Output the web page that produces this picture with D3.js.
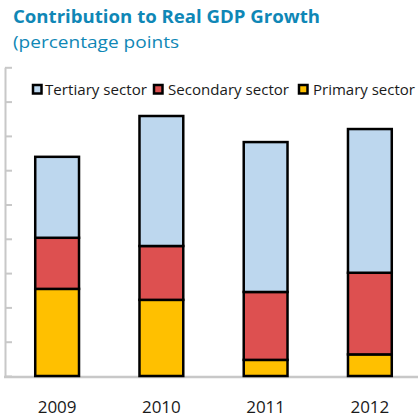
<!DOCTYPE html>
<html><head><meta charset="utf-8">
<script src="https://cdn.jsdelivr.net/npm/d3@7"></script>
<style>body{margin:0;background:#fff}svg{display:block}</style>
</head><body>
<svg id="c" width="418" height="420"></svg>
<script>
const years = ["2009","2010","2011","2012"];
const primary = [2.54, 2.22, 0.47, 0.63];
const secondary = [1.49, 1.57, 1.98, 2.38];
const tertiary = [2.36, 3.79, 4.37, 4.19];
const seriesNames = ["Primary sector","Secondary sector","Tertiary sector"];
const colors = ["#ffc000","#dd5050","#bdd7ee"];
const yTicks = [0,1,2,3,4,5,6,7,8,9];

const svg = d3.select("#c");
const teal = "#0f87b6";
svg.append("text").attr("x",13).attr("y",23).attr("font-family","Open Sans").attr("font-weight","bold")
  .attr("font-size",17).attr("fill",teal).attr("textLength",307).attr("lengthAdjust","spacingAndGlyphs")
  .text("Contribution to Real GDP Growth");
svg.append("text").attr("x",13).attr("y",48).attr("font-family","Open Sans")
  .attr("font-size",17).attr("fill",teal).attr("textLength",166).attr("lengthAdjust","spacingAndGlyphs")
  .text("(percentage points");

const x = d3.scaleBand().domain(years).range([5,422]).paddingInner(0.58).paddingOuter(0.29);
const y = d3.scaleLinear().domain([0,9]).range([376,67.3]);

const rows = years.map((yr,i)=>({year:yr,p:primary[i],s:secondary[i],t:tertiary[i]}));
const stack = d3.stack().keys(["p","s","t"])(rows);

const axisG = svg.append("g").attr("transform","translate(5,0)")
  .call(d3.axisLeft(y).tickValues(yTicks).tickFormat("").tickSizeInner(-7).tickSizeOuter(0));
axisG.selectAll("path,line").attr("stroke","#c8c8c8").attr("stroke-width",2);

svg.append("line").attr("x1",4).attr("x2",418).attr("y1",y(0)+1).attr("y2",y(0)+1)
  .attr("stroke","#c8c8c8").attr("stroke-width",2.5);

stack.forEach((layer,k)=>{
  svg.append("g").selectAll("rect").data(layer).join("rect")
    .attr("x",d=>x(d.data.year)).attr("width",x.bandwidth())
    .attr("y",d=>y(d[1])).attr("height",d=>y(d[0])-y(d[1]))
    .attr("fill",colors[k]).attr("stroke","#000").attr("stroke-width",2.5);
});

svg.append("g").selectAll("text").data(years).join("text")
  .attr("x",d=>x(d)+x.bandwidth()/2).attr("y",413).attr("text-anchor","middle")
  .attr("font-family","Open Sans").attr("font-size",17).attr("fill","#1a1a1a").text(d=>d);

const legend = [
  {name:seriesNames[2], color:colors[2], sx:32, tx:45, w:102},
  {name:seriesNames[1], color:colors[1], sx:153, tx:168, w:121},
  {name:seriesNames[0], color:colors[0], sx:298, tx:313, w:102}
];
const lg = svg.append("g");
legend.forEach(l=>{
  lg.append("rect").attr("x",l.sx+1).attr("y",85).attr("width",8.5).attr("height",8.5)
    .attr("fill",l.color).attr("stroke","#000").attr("stroke-width",2.5);
  lg.append("text").attr("x",l.tx).attr("y",95).attr("font-family","Open Sans").attr("font-size",15)
    .attr("fill","#1a1a1a").attr("textLength",l.w).attr("lengthAdjust","spacingAndGlyphs").text(l.name);
});
</script>
</body></html>
